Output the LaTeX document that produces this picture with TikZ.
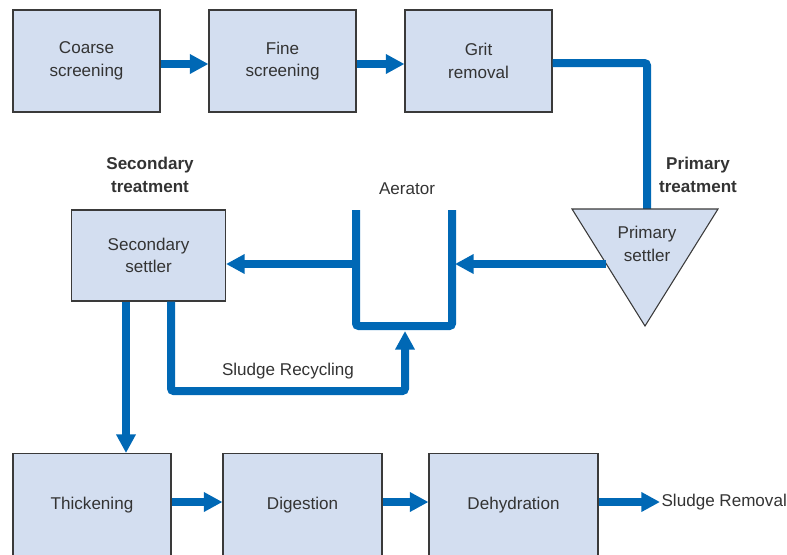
\documentclass[tikz,border=0pt]{standalone}
\usepackage{fontspec}
\setmainfont{Liberation Sans}
\usetikzlibrary{arrows.meta}
\definecolor{pipeblue}{HTML}{0068B5}
\definecolor{boxfill}{HTML}{D3DEF0}
\definecolor{boxline}{HTML}{3A3A3A}
\definecolor{txt}{HTML}{333333}
\begin{document}
\begin{tikzpicture}
  [x=0.75pt,y=-0.75pt,
   every node/.style={text=txt,font=\fontsize{12.8}{17}\selectfont,align=center},
   heading/.style={font=\fontsize{12.8}{17}\selectfont\bfseries},
   stage/.style={draw=boxline,line width=0.8pt,fill=boxfill,minimum height=76.5pt},
   lowstage/.style={stage,minimum height=90pt,text depth=16pt,anchor=north},
   pipe/.style={draw=pipeblue,line width=6pt,rounded corners=2pt},
   flow/.style={pipe,-{Triangle[length=14pt,width=14pt]}}]
  \useasboundingbox (0,0) rectangle (787,554);
  \clip (0,0) rectangle (787,554);

  % pretreatment
  \node[stage,minimum width=110.25pt] (coarse) at (86.5,61) {Coarse\\screening};
  \node[stage,minimum width=110.25pt] (fine) at (282.5,61) {Fine\\screening};
  \node[stage,minimum width=110.25pt] (grit) at (478.5,61) {Grit\\removal};

  % primary settler
  \coordinate (ptl) at (572,209);
  \coordinate (ptr) at (718,209);
  \coordinate (pbot) at (645,326);
  \coordinate (pin) at (647,209);
  \coordinate (pout) at (606,264);
  \draw[pipe] (grit.east |- 0,63) -| (pin);
  \draw[draw=boxline,line width=0.8pt,fill=boxfill] (ptl) -- (ptr) -- (pbot) -- cycle;
  \node (prim) at (647,244) {Primary\\settler};
  \node[heading] (primhead) at (698,175) {Primary\\treatment};

  % aerator
  \coordinate (aertl) at (356,210);
  \coordinate (aerbl) at (356,326);
  \coordinate (aerbr) at (452,326);
  \coordinate (aertr) at (452,210);
  \coordinate (aerin) at (405,331);
  \draw[pipe] (aertl) -- (aerbl) -- (aerbr) -- (aertr);
  \node (aer) at (407,189) {Aerator};
  \draw[flow] (pout) -- (455,264);

  % secondary settler
  \node[stage,minimum width=115.5pt,minimum height=68.25pt] (sec) at (148.5,255.5) {Secondary\\settler};
  \node[heading] (sechead) at (150,175) {Secondary\\treatment};
  \draw[flow] (aertl |- pout) -- (sec.east |- pout);

  % sludge line
  \coordinate (down) at (126,0);
  \coordinate (rec) at (171,391);
  \coordinate (row) at (0,502);
  \node[lowstage,minimum width=118.5pt] (thick) at (92,453) {Thickening};
  \node[lowstage,minimum width=119.25pt] (dig) at (302.5,453) {Digestion};
  \node[lowstage,minimum width=126.75pt] (dehyd) at (513.5,453) {Dehydration};
  \node[anchor=west,inner sep=1pt] (out) at (660,502) {Sludge Removal};
  \draw[flow] (down |- sec.south) -- (down |- thick.north);
  \draw[flow] (rec |- sec.south) |- (aerin |- rec) -- (aerin);
  \node (recl) at (288,371) {Sludge Recycling};

  \foreach \from/\to in {coarse/fine,fine/grit}
    \draw[flow] (\from.east |- 0,64) -- (\to.west |- 0,64);
  \foreach \from/\to in {thick/dig,dig/dehyd,dehyd/out}
    \draw[flow] (\from.east |- row) -- (\to.west |- row);
\end{tikzpicture}
\end{document}
